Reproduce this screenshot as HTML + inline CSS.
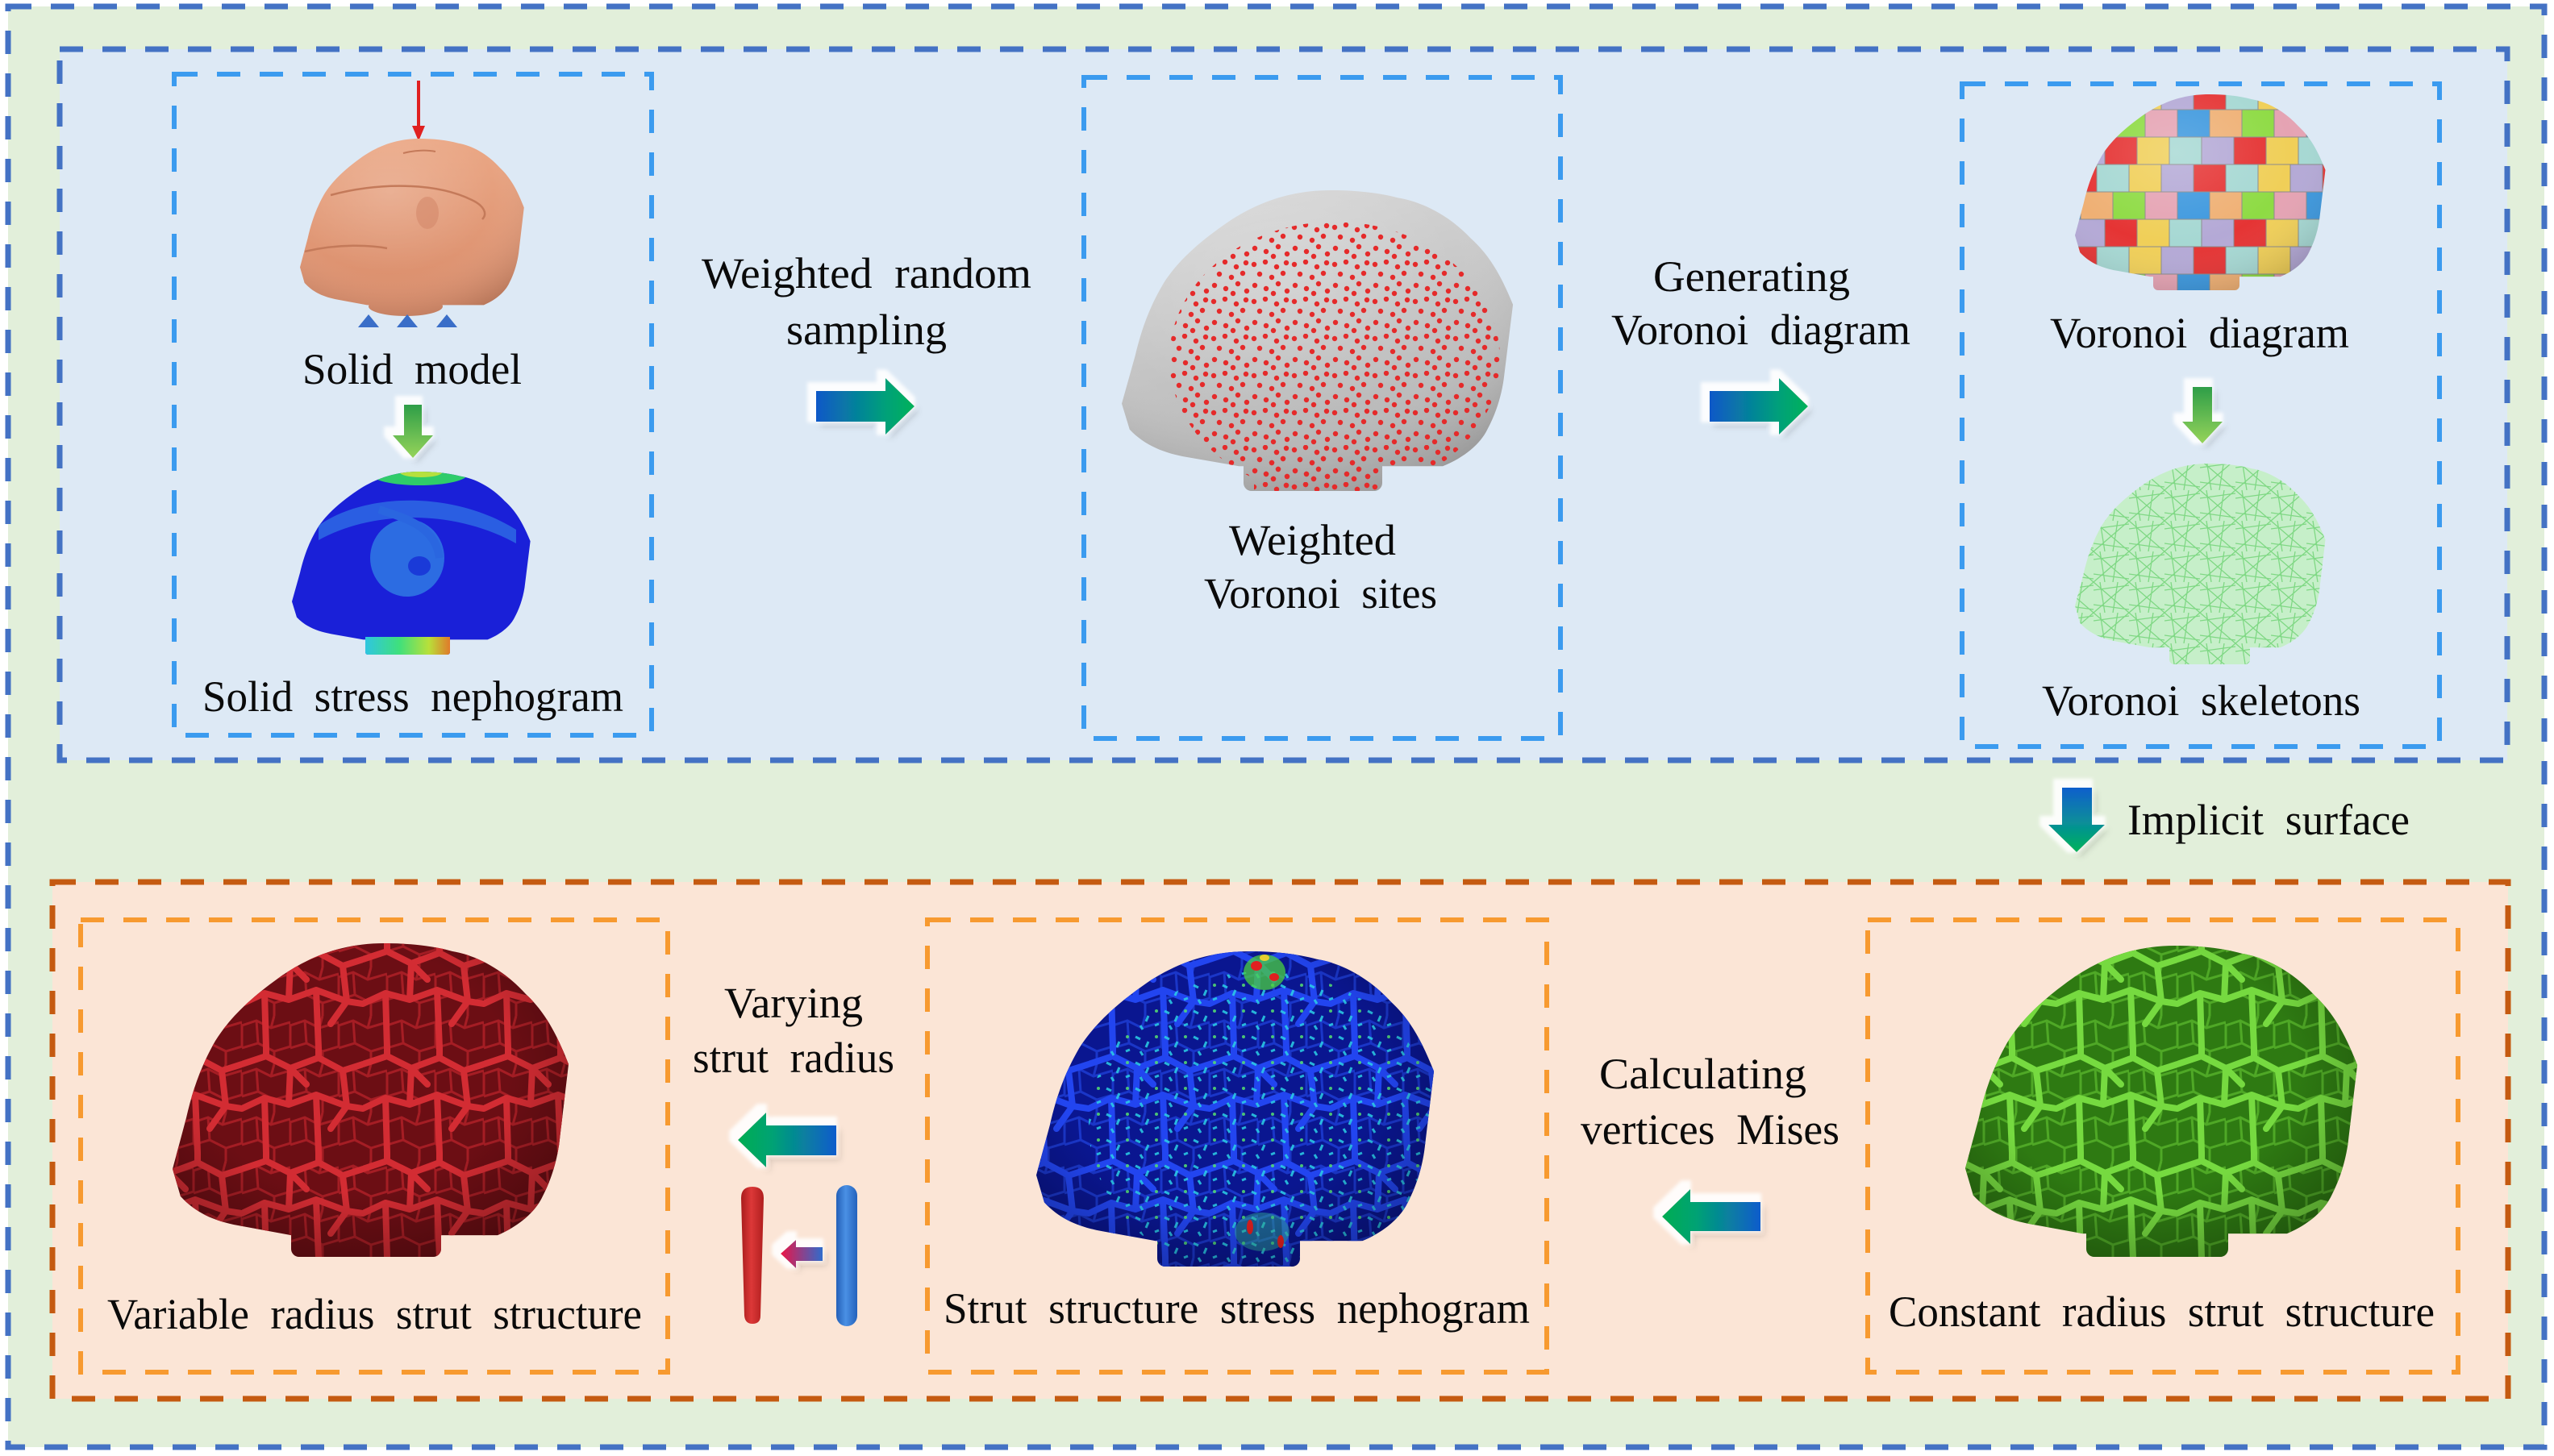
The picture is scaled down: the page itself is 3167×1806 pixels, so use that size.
<!DOCTYPE html>
<html>
<head>
<meta charset="utf-8">
<style>
html,body{margin:0;padding:0;background:#fff;}
body{width:3167px;height:1806px;overflow:hidden;}
svg{display:block;}
.d{fill:none;stroke-dasharray:29 24;stroke-width:7;}
.di{fill:none;stroke-dasharray:29 24;stroke-width:6;}
.t{font-family:"Liberation Serif","Times New Roman",serif;font-size:54px;fill:#0a0a0a;}
</style>
</head>
<body>
<svg width="3167" height="1806" viewBox="0 0 3167 1806" xmlns="http://www.w3.org/2000/svg" xmlns:xlink="http://www.w3.org/1999/xlink">
<defs>
  <path id="shell" d="M531,0 C420,0 340,50 277,107 C190,190 140,260 107,332 C70,420 50,500 34,595 L0,767 L20,860 C60,920 110,945 164,959 L297,992 L814,992 C870,960 910,910 927,860 C950,800 965,730 970,663 L992,411 C960,300 930,230 885,173 C830,90 760,40 700,27 C650,8 590,0 531,0 Z"/>
  <path id="latP" fill="none" d="M0,20 L30,10 L60,25 L95,12 L125,28 L150,20 M0,75 L28,62 L58,70 L92,58 L130,72 L150,75 M60,25 L58,70 M125,28 L130,72 M28,62 L30,130 M30,0 L30,10 M92,58 L95,130 M95,0 L95,12 M60,25 L80,45 M130,72 L110,100"/>
  <path id="fineP" fill="none" d="M0,12 L18,6 L36,15 L60,8 M0,40 L20,34 L40,44 L60,38 M18,6 L20,34 M40,44 L40,60 M40,0 L36,15 M0,12 L0,40 M60,8 L60,38"/>

  <linearGradient id="gRight" x1="0" y1="0" x2="1" y2="0">
    <stop offset="0" stop-color="#0a58c8"/><stop offset="0.7" stop-color="#03a07a"/><stop offset="1" stop-color="#00b25a"/>
  </linearGradient>
  <linearGradient id="gLeft" x1="0" y1="0" x2="1" y2="0">
    <stop offset="0" stop-color="#00ad52"/><stop offset="0.35" stop-color="#04a274"/><stop offset="1" stop-color="#0a5ccc"/>
  </linearGradient>
  <linearGradient id="gDown" x1="0" y1="0" x2="0" y2="1">
    <stop offset="0" stop-color="#0f5fcc"/><stop offset="0.55" stop-color="#078f98"/><stop offset="1" stop-color="#00b35a"/>
  </linearGradient>
  <linearGradient id="gGreen" x1="0" y1="0" x2="0" y2="1">
    <stop offset="0" stop-color="#2e9e48"/><stop offset="1" stop-color="#96d45a"/>
  </linearGradient>
  <linearGradient id="gRedBlue" x1="0" y1="0" x2="1" y2="0">
    <stop offset="0" stop-color="#ec1546"/><stop offset="1" stop-color="#2f6ccc"/>
  </linearGradient>
  <linearGradient id="gRedStrut" x1="0" y1="0" x2="1" y2="0">
    <stop offset="0" stop-color="#a81c1c"/><stop offset="0.45" stop-color="#dc3838"/><stop offset="1" stop-color="#b01e1e"/>
  </linearGradient>
  <linearGradient id="gBlueStrut" x1="0" y1="0" x2="1" y2="0">
    <stop offset="0" stop-color="#2460b8"/><stop offset="0.45" stop-color="#4a90e4"/><stop offset="1" stop-color="#2462bc"/>
  </linearGradient>
  <linearGradient id="gOrange" x1="0" y1="0" x2="0" y2="1">
    <stop offset="0" stop-color="#eba886"/><stop offset="1" stop-color="#d88a68"/>
  </linearGradient>
  <linearGradient id="gGray" x1="0" y1="0" x2="0.3" y2="1">
    <stop offset="0" stop-color="#dadada"/><stop offset="1" stop-color="#b4b4b4"/>
  </linearGradient>
  <linearGradient id="gRainbow" x1="0" y1="0" x2="1" y2="0">
    <stop offset="0" stop-color="#2fc6e0"/><stop offset="0.4" stop-color="#3fe07c"/><stop offset="0.75" stop-color="#b8e03a"/><stop offset="1" stop-color="#e07a2a"/>
  </linearGradient>
  <radialGradient id="shade" cx="0.45" cy="0.4" r="0.7">
    <stop offset="0.55" stop-color="#000" stop-opacity="0"/><stop offset="1" stop-color="#000" stop-opacity="0.35"/>
  </radialGradient>
  <radialGradient id="shadeL" cx="0.4" cy="0.3" r="0.75">
    <stop offset="0" stop-color="#fff" stop-opacity="0.18"/><stop offset="0.6" stop-color="#fff" stop-opacity="0"/><stop offset="1" stop-color="#000" stop-opacity="0.15"/>
  </radialGradient>

  <pattern id="pR1" width="60" height="60" patternUnits="userSpaceOnUse"><use href="#fineP" xlink:href="#fineP" stroke="#a51d24" stroke-width="3"/></pattern>
  <pattern id="pR2" width="150" height="130" patternUnits="userSpaceOnUse"><use href="#latP" xlink:href="#latP" stroke="#d32c33" stroke-width="8" stroke-linejoin="round" stroke-linecap="round"/></pattern>
  <pattern id="pG1" width="60" height="60" patternUnits="userSpaceOnUse"><use href="#fineP" xlink:href="#fineP" stroke="#4fa826" stroke-width="3"/></pattern>
  <pattern id="pG2" width="150" height="130" patternUnits="userSpaceOnUse"><use href="#latP" xlink:href="#latP" stroke="#76da40" stroke-width="8" stroke-linejoin="round" stroke-linecap="round"/></pattern>
  <pattern id="pB1" width="60" height="60" patternUnits="userSpaceOnUse"><use href="#fineP" xlink:href="#fineP" stroke="#1a36c8" stroke-width="3"/></pattern>
  <pattern id="pB2" width="150" height="130" patternUnits="userSpaceOnUse"><use href="#latP" xlink:href="#latP" stroke="#2245f0" stroke-width="8" stroke-linejoin="round" stroke-linecap="round"/></pattern>

  <pattern id="pDots" width="50" height="46" patternUnits="userSpaceOnUse">
    <g fill="#e52a2a">
      <circle cx="5" cy="6" r="3.2"/><circle cx="19" cy="3" r="3.2"/><circle cx="33" cy="9" r="3.2"/><circle cx="45" cy="4" r="3.2"/>
      <circle cx="12" cy="18" r="3.2"/><circle cx="27" cy="22" r="3.2"/><circle cx="41" cy="17" r="3.2"/>
      <circle cx="6" cy="32" r="3.2"/><circle cx="20" cy="36" r="3.2"/><circle cx="35" cy="30" r="3.2"/><circle cx="46" cy="39" r="3.2"/><circle cx="29" cy="42" r="3.2"/>
    </g>
  </pattern>
  <pattern id="pSpeck" width="36" height="32" patternUnits="userSpaceOnUse">
    <path d="M4,6 l6,3 M20,12 l-3,7 M28,24 l5,-2 M10,24 l3,5" stroke="#2bd0e6" stroke-width="3" fill="none"/>
    <circle cx="30" cy="6" r="2" fill="#55e070"/>
  </pattern>
  <pattern id="pSkel" width="44" height="38" patternUnits="userSpaceOnUse">
    <path d="M0,10 L44,4 M0,28 L44,34 M8,0 L14,38 M30,0 L24,38 M0,0 L44,38 M44,0 L0,38" stroke="#7fd884" stroke-width="1.3" fill="none"/>
  </pattern>
  <pattern id="pVor" width="160" height="102" patternUnits="userSpaceOnUse">
    <g stroke="#8a8a8a" stroke-width="1">
      <rect x="0" y="0" width="40" height="34" fill="#e53434"/>
      <rect x="40" y="0" width="40" height="34" fill="#a6d8d3"/>
      <rect x="80" y="0" width="40" height="34" fill="#f0cf58"/>
      <rect x="120" y="0" width="40" height="34" fill="#b4a9d6"/>
      <rect x="-20" y="34" width="40" height="34" fill="#3d98de"/>
      <rect x="140" y="34" width="40" height="34" fill="#3d98de"/>
      <rect x="20" y="34" width="40" height="34" fill="#efb074"/>
      <rect x="60" y="34" width="40" height="34" fill="#8edb44"/>
      <rect x="100" y="34" width="40" height="34" fill="#e5a3b3"/>
      <rect x="-30" y="68" width="40" height="34" fill="#a6d8d3"/>
      <rect x="130" y="68" width="40" height="34" fill="#a6d8d3"/>
      <rect x="10" y="68" width="40" height="34" fill="#b4a9d6"/>
      <rect x="50" y="68" width="40" height="34" fill="#e53434"/>
      <rect x="90" y="68" width="40" height="34" fill="#f0cf58"/>
    </g>
  </pattern>

  <clipPath id="cO"><use href="#shell" xlink:href="#shell" transform="translate(372,172) scale(0.28,0.208)"/><ellipse cx="503" cy="380" rx="46" ry="12"/></clipPath>
  <clipPath id="cBS"><use href="#shell" xlink:href="#shell" transform="translate(362,585) scale(0.298,0.21)"/><rect x="453" y="788" width="105" height="24" rx="3"/></clipPath>
  <clipPath id="cGy"><use href="#shell" xlink:href="#shell" transform="translate(1391,236) scale(0.489,0.345)"/><rect x="1542" y="555" width="172" height="54" rx="10"/></clipPath>
  <clipPath id="cV"><use href="#shell" xlink:href="#shell" transform="translate(2573,117) scale(0.313,0.228)"/><rect x="2670" y="335" width="107" height="25" rx="6"/></clipPath>
  <clipPath id="cS"><use href="#shell" xlink:href="#shell" transform="translate(2573,575) scale(0.313,0.23)"/><rect x="2690" y="800" width="100" height="24" rx="6"/></clipPath>
  <clipPath id="cR"><use href="#shell" xlink:href="#shell" transform="translate(214,1170) scale(0.495,0.365)"/><rect x="361" y="1518" width="186" height="41" rx="10"/></clipPath>
  <clipPath id="cB"><use href="#shell" xlink:href="#shell" transform="translate(1285,1180) scale(0.497,0.362)"/><rect x="1435" y="1530" width="177" height="41" rx="10"/></clipPath>
  <clipPath id="cG"><use href="#shell" xlink:href="#shell" transform="translate(2437,1173) scale(0.49,0.36)"/><rect x="2587" y="1520" width="176" height="39" rx="10"/></clipPath>

  <filter id="glow" x="-40%" y="-40%" width="180%" height="180%">
    <feMorphology in="SourceAlpha" operator="dilate" radius="6" result="d"/>
    <feOffset in="d" dx="-5" dy="-5" result="o"/>
    <feGaussianBlur in="o" stdDeviation="2" result="b"/>
    <feFlood flood-color="#ffffff" flood-opacity="0.9"/>
    <feComposite in2="b" operator="in" result="w"/>
    <feOffset in="SourceAlpha" dx="5" dy="6" result="s"/>
    <feGaussianBlur in="s" stdDeviation="4" result="sb"/>
    <feFlood flood-color="#000" flood-opacity="0.15"/>
    <feComposite in2="sb" operator="in" result="sh"/>
    <feMerge><feMergeNode in="sh"/><feMergeNode in="w"/><feMergeNode in="SourceGraphic"/></feMerge>
  </filter>
</defs>

<!-- background & frames -->
<rect width="3167" height="1806" fill="#ffffff"/>
<rect x="10" y="8" width="3145" height="1787" fill="#e2efda"/>
<rect x="10" y="8" width="3145" height="1787" class="d" stroke="#4472c4"/>

<rect x="74" y="61" width="3035" height="882" fill="#dde9f5"/>
<rect x="74" y="61" width="3035" height="882" class="d" stroke="#4472c4"/>

<rect x="65" y="1094" width="3045" height="641" fill="#fbe5d6"/>
<rect x="65" y="1094" width="3045" height="641" class="d" stroke="#c55a11"/>

<rect x="216" y="92" width="592" height="820" class="di" stroke="#3b9bef"/>
<rect x="1344" y="96" width="591" height="820" class="di" stroke="#3b9bef"/>
<rect x="2433" y="104" width="592" height="822" class="di" stroke="#3b9bef"/>

<rect x="100" y="1141" width="728" height="561" class="di" stroke="#f79a30"/>
<rect x="1150" y="1141" width="768" height="561" class="di" stroke="#f79a30"/>
<rect x="2316" y="1141" width="732" height="561" class="di" stroke="#f79a30"/>

<!-- Box 1: solid model -->
<line x1="519" y1="100" x2="519" y2="160" stroke="#e02020" stroke-width="4"/>
<polygon points="511,156 527,156 519,175" fill="#e02020"/>
<g clip-path="url(#cO)">
  <rect x="370" y="170" width="285" height="225" fill="url(#gOrange)"/>
  <rect x="370" y="170" width="285" height="225" fill="url(#shadeL)"/>
  <path d="M378,312 C420,302 460,304 480,308" stroke="#c47a5a" stroke-width="2.5" fill="none"/>
  <path d="M410,242 C470,226 540,226 585,248 C600,255 605,265 598,272" stroke="#c47a5a" stroke-width="2.5" fill="none"/>
  <path d="M500,190 C515,186 530,186 540,188" stroke="#c47a5a" stroke-width="2" fill="none"/>
  <ellipse cx="530" cy="264" rx="14" ry="20" fill="#d4896a" opacity="0.6"/>
</g>
<g fill="#3a6ec8">
  <polygon points="444,406 470,406 457,390"/>
  <polygon points="492,406 518,406 505,390"/>
  <polygon points="541,406 567,406 554,390"/>
</g>
<text class="t" x="375" y="476" textLength="272" lengthAdjust="spacingAndGlyphs">Solid&#160; model</text>
<polygon points="501,502 523,502 523,540 537,540 512,568 487,540 501,540" fill="url(#gGreen)" filter="url(#glow)"/>
<g clip-path="url(#cBS)">
  <rect x="360" y="583" width="302" height="232" fill="#1a20d8"/>
  <path d="M395,652 C450,612 560,607 640,657 L640,674 C560,630 460,634 395,670 Z" fill="#2a5ee2"/>
  <ellipse cx="505" cy="692" rx="46" ry="48" fill="#2c6ce2"/>
  <ellipse cx="520" cy="702" rx="14" ry="12" fill="#1a3ad8"/>
  <path d="M470,632 C500,642 540,652 545,692" stroke="#2a66e0" stroke-width="10" fill="none"/>
  <ellipse cx="520" cy="588" rx="60" ry="14" fill="#2fcc6a"/>
  <ellipse cx="522" cy="586" rx="26" ry="6" fill="#b6e03e"/>
  <rect x="453" y="790" width="105" height="24" fill="url(#gRainbow)"/>
</g>
<text class="t" x="251" y="882" textLength="522" lengthAdjust="spacingAndGlyphs">Solid&#160; stress&#160; nephogram</text>

<!-- Arrow 1 -->
<text class="t" x="870" y="357" textLength="409" lengthAdjust="spacingAndGlyphs">Weighted&#160; random</text>
<text class="t" x="975" y="427" textLength="199" lengthAdjust="spacingAndGlyphs">sampling</text>
<polygon points="1012,485 1098,485 1098,469 1134,504 1098,539 1098,523 1012,523" fill="url(#gRight)" filter="url(#glow)"/>

<!-- Box 2: gray with dots -->
<g clip-path="url(#cGy)">
  <rect x="1389" y="234" width="494" height="378" fill="url(#gGray)"/>
  <rect x="1389" y="234" width="494" height="378" fill="url(#shadeL)"/>
  <ellipse cx="1655" cy="445" rx="205" ry="170" fill="url(#pDots)"/>
  <rect x="1555" y="560" width="150" height="50" fill="url(#pDots)"/>
</g>
<text class="t" x="1524" y="688" textLength="207" lengthAdjust="spacingAndGlyphs">Weighted</text>
<text class="t" x="1493" y="754" textLength="289" lengthAdjust="spacingAndGlyphs">Voronoi&#160; sites</text>

<!-- Arrow 2 -->
<text class="t" x="2050" y="361" textLength="244" lengthAdjust="spacingAndGlyphs">Generating</text>
<text class="t" x="1998" y="427" textLength="371" lengthAdjust="spacingAndGlyphs">Voronoi&#160; diagram</text>
<polygon points="2120,485 2206,485 2206,469 2242,504 2206,539 2206,523 2120,523" fill="url(#gRight)" filter="url(#glow)"/>

<!-- Box 3 -->
<g clip-path="url(#cV)">
  <rect x="2570" y="114" width="320" height="250" fill="url(#pVor)"/>
  <rect x="2570" y="114" width="320" height="250" fill="url(#shadeL)"/>
</g>
<text class="t" x="2542" y="431" textLength="371" lengthAdjust="spacingAndGlyphs">Voronoi&#160; diagram</text>
<polygon points="2719,480 2743,480 2743,523 2756,523 2731,550 2706,523 2719,523" fill="url(#gGreen)" filter="url(#glow)"/>
<g clip-path="url(#cS)">
  <rect x="2570" y="572" width="320" height="255" fill="#c6efc9"/>
  <rect x="2570" y="572" width="320" height="255" fill="url(#pSkel)"/>
</g>
<text class="t" x="2532" y="887" textLength="395" lengthAdjust="spacingAndGlyphs">Voronoi&#160; skeletons</text>

<!-- Implicit surface -->
<polygon points="2557,977 2594,977 2594,1023 2610,1023 2575,1057 2540,1023 2557,1023" fill="url(#gDown)" filter="url(#glow)"/>
<text class="t" x="2638" y="1035" textLength="350" lengthAdjust="spacingAndGlyphs">Implicit&#160; surface</text>

<!-- Bottom box 1: red lattice -->
<g clip-path="url(#cR)">
  <rect x="212" y="1168" width="500" height="395" fill="#6c0e14"/>
  <rect x="212" y="1168" width="500" height="395" fill="url(#pR1)"/>
  <rect x="212" y="1168" width="500" height="395" fill="url(#pR2)"/>
  <rect x="212" y="1168" width="500" height="395" fill="url(#shade)"/>
</g>
<text class="t" x="133" y="1648" textLength="663" lengthAdjust="spacingAndGlyphs">Variable&#160; radius&#160; strut&#160; structure</text>

<!-- Varying strut radius -->
<text class="t" x="898" y="1262" textLength="172" lengthAdjust="spacingAndGlyphs">Varying</text>
<text class="t" x="859" y="1330" textLength="250" lengthAdjust="spacingAndGlyphs">strut&#160; radius</text>
<polygon points="915,1414 950,1380 950,1396 1037,1396 1037,1433 950,1433 950,1448" fill="url(#gLeft)" filter="url(#glow)"/>
<path d="M919,1486 Q919,1472 933,1472 Q947,1472 947,1486 L943,1632 Q943,1642 933,1642 Q924,1642 923,1632 Z" fill="url(#gRedStrut)"/>
<rect x="1037" y="1470" width="26" height="175" rx="13" fill="url(#gBlueStrut)"/>
<polygon points="968,1555 987,1538 987,1547 1020,1547 1020,1564 987,1564 987,1573" fill="url(#gRedBlue)" filter="url(#glow)"/>

<!-- Bottom box 2: blue stress lattice -->
<g clip-path="url(#cB)">
  <rect x="1283" y="1178" width="502" height="396" fill="#0a1690"/>
  <rect x="1283" y="1178" width="502" height="396" fill="url(#pB1)"/>
  <rect x="1283" y="1178" width="502" height="396" fill="url(#pB2)"/>
  <ellipse cx="1565" cy="1395" rx="215" ry="190" fill="url(#pSpeck)" opacity="0.85"/>
  <ellipse cx="1568" cy="1206" rx="26" ry="22" fill="#4ad040" opacity="0.75"/>
  <ellipse cx="1558" cy="1198" rx="7" ry="6" fill="#e02020"/>
  <ellipse cx="1580" cy="1212" rx="6" ry="5" fill="#e02020"/>
  <ellipse cx="1568" cy="1188" rx="6" ry="4" fill="#e8d030"/>
  <ellipse cx="1565" cy="1528" rx="34" ry="24" fill="#36c0a0" opacity="0.45"/>
  <ellipse cx="1550" cy="1522" rx="4" ry="9" fill="#e02020"/>
  <ellipse cx="1588" cy="1540" rx="4" ry="8" fill="#e02020"/>
  <rect x="1283" y="1178" width="502" height="396" fill="url(#shade)"/>
</g>
<text class="t" x="1170" y="1641" textLength="727" lengthAdjust="spacingAndGlyphs">Strut&#160; structure&#160; stress&#160; nephogram</text>

<!-- Calculating arrow -->
<text class="t" x="1983" y="1350" textLength="257" lengthAdjust="spacingAndGlyphs">Calculating</text>
<text class="t" x="1960" y="1419" textLength="321" lengthAdjust="spacingAndGlyphs">vertices&#160; Mises</text>
<polygon points="2061,1509 2096,1475 2096,1491 2183,1491 2183,1527 2096,1527 2096,1543" fill="url(#gLeft)" filter="url(#glow)"/>

<!-- Bottom box 3: green lattice -->
<g clip-path="url(#cG)">
  <rect x="2435" y="1171" width="495" height="392" fill="#2e7a12"/>
  <rect x="2435" y="1171" width="495" height="392" fill="url(#pG1)"/>
  <rect x="2435" y="1171" width="495" height="392" fill="url(#pG2)"/>
  <rect x="2435" y="1171" width="495" height="392" fill="url(#shade)"/>
</g>
<text class="t" x="2342" y="1645" textLength="677" lengthAdjust="spacingAndGlyphs">Constant&#160; radius&#160; strut&#160; structure</text>
</svg>
</body>
</html>
